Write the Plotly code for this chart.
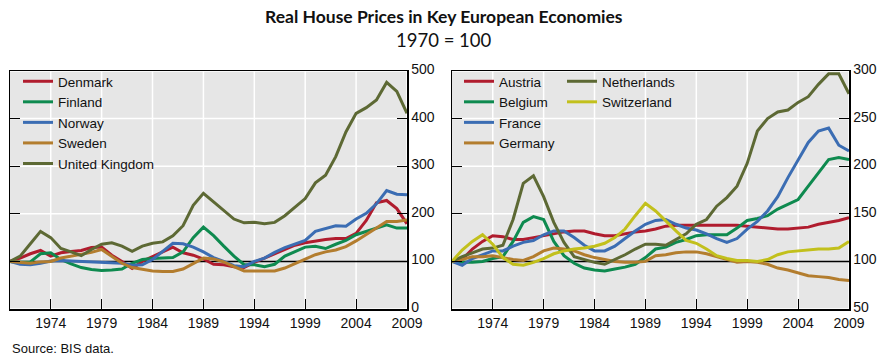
import plotly.graph_objects as go

years = list(range(1970, 2010))

# Left panel (1970 = 100)
denmark = [100, 107, 116, 123, 111, 118, 121, 123, 129, 130, 113, 100, 85, 100, 110, 120, 130, 118, 113, 105,
           94, 93, 89, 87, 98, 107, 116, 125, 134, 139, 143, 146, 148, 148, 159, 186, 223, 228, 211, 179]
finland = [100, 98, 99, 116, 118, 104, 95, 87, 83, 81, 82, 84, 96, 104, 106, 107, 108, 120, 150, 172,
           154, 132, 111, 93, 93, 89, 94, 111, 121, 130, 132, 127, 136, 144, 156, 163, 170, 177, 170, 170]
norway = [100, 94, 93, 96, 101, 102, 101, 100, 99, 98, 98, 96, 92, 93, 104, 121, 138, 137, 130, 120,
          108, 100, 91, 89, 100, 107, 119, 129, 136, 144, 163, 169, 175, 174, 189, 201, 221, 249, 241, 240]
sweden = [100, 98, 96, 99, 100, 107, 111, 116, 119, 125, 111, 96, 87, 84, 80, 79, 79, 84, 96, 107,
          105, 99, 89, 80, 80, 80, 80, 86, 96, 105, 114, 120, 124, 131, 143, 157, 171, 184, 184, 187]
uk = [100, 111, 137, 163, 150, 127, 120, 112, 125, 136, 139, 132, 121, 132, 138, 141, 154, 175, 218, 243,
      225, 207, 189, 181, 182, 179, 182, 196, 214, 232, 265, 281, 320, 372, 411, 423, 439, 476, 457, 411]

# Right panel (1970 = 100)
austria = [100, 102, 113, 121, 127, 126, 123, 123, 125, 127, 129, 131, 132, 132, 129, 127, 127, 129, 131, 132,
           134, 137, 138, 138, 138, 138, 138, 138, 138, 137, 136, 135, 134, 134, 135, 136, 139, 141, 143, 146]
belgium = [100, 99, 99, 100, 103, 105, 121, 141, 147, 144, 121, 106, 98, 93, 91, 90, 92, 94, 97, 104,
           113, 115, 120, 123, 127, 128, 128, 128, 135, 143, 145, 148, 155, 160, 165, 179, 193, 207, 209, 207]
france = [100, 96, 103, 107, 111, 111, 116, 120, 122, 128, 132, 132, 125, 117, 111, 111, 116, 124, 132, 139,
          143, 144, 139, 135, 133, 129, 124, 120, 124, 134, 142, 153, 168, 188, 207, 225, 237, 240, 222, 216]
germany = [100, 102, 105, 105, 106, 104, 102, 101, 105, 111, 114, 113, 111, 107, 104, 102, 100, 99, 99, 100,
           106, 107, 109, 110, 110, 108, 105, 102, 99, 100, 99, 97, 93, 91, 88, 85, 84, 83, 81, 80]
netherlands = [100, 105, 109, 113, 114, 117, 144, 182, 190, 168, 141, 120, 105, 102, 99, 97, 102, 107, 113, 118,
               118, 117, 123, 129, 139, 144, 158, 167, 179, 203, 237, 250, 257, 259, 267, 273, 286, 297, 297, 276]
switzerland = [100, 112, 121, 128, 118, 104, 97, 96, 99, 103, 108, 111, 113, 114, 116, 119, 125, 134, 148, 161,
               153, 142, 132, 122, 119, 113, 106, 103, 101, 101, 100, 102, 107, 110, 111, 112, 113, 113, 114, 121]

x_tickvals = [1974, 1979, 1984, 1989, 1994, 1999, 2004, 2009]
left_ticks = [0, 100, 200, 300, 400, 500]
right_ticks = [50, 100, 150, 200, 250, 300]
BASE = 100
X_RANGE = [1970, 2009]

RED = "#b01c2e"
GREEN = "#0e8a4f"
BLUE = "#3b6db3"
TAN = "#b37d2e"
OLIVE = "#5d6934"
YEL = "#c2c01c"

FONT = "Liberation Sans, Arial, sans-serif"
TITLE_FONT = "Lato, Open Sans, sans-serif"

fig = go.Figure()

left = [("Denmark", denmark, RED), ("Finland", finland, GREEN), ("Norway", norway, BLUE),
        ("Sweden", sweden, TAN), ("United Kingdom", uk, OLIVE)]
for name, vals, col in left:
    fig.add_trace(go.Scatter(x=years, y=vals, name=name, mode="lines",
                             line=dict(color=col, width=3), xaxis="x", yaxis="y", legend="legend"))

right1 = [("Austria", austria, RED), ("Belgium", belgium, GREEN), ("France", france, BLUE),
          ("Germany", germany, TAN)]
right2 = [("Netherlands", netherlands, OLIVE), ("Switzerland", switzerland, YEL)]
for name, vals, col in right1:
    fig.add_trace(go.Scatter(x=years, y=vals, name=name, mode="lines",
                             line=dict(color=col, width=3), xaxis="x2", yaxis="y2", legend="legend2"))
for name, vals, col in right2:
    fig.add_trace(go.Scatter(x=years, y=vals, name=name, mode="lines",
                             line=dict(color=col, width=3), xaxis="x2", yaxis="y2", legend="legend3"))

W, H = 888, 363
ydom = [1 - 309 / H, 1 - 71 / H]

xcommon = dict(range=X_RANGE, tickvals=x_tickvals, ticks="inside", ticklen=10, tickcolor="black",
               showline=True, linecolor="black", linewidth=1.5, mirror=True,
               showgrid=False, zeroline=False, automargin=False, ticklabelstandoff=1,
               tickfont=dict(size=14, color="#111"))
ycommon = dict(side="right", ticks="inside", ticklen=10, tickcolor="black",
               showline=True, linecolor="black", linewidth=1.5, mirror="ticks",
               showgrid=False, zeroline=False, automargin=False, ticklabelshift=-2,
               tickfont=dict(size=14, color="#111"))

legend_common = dict(bgcolor="rgba(0,0,0,0)", font=dict(size=13.5, color="#111", family=FONT),
                     xanchor="left", yanchor="top", tracegroupgap=0, itemwidth=30)

# gridlines (white) and the black 100 baseline, drawn beneath the data
shapes = []
for xr, yr, yt in (("x", "y", left_ticks), ("x2", "y2", right_ticks)):
    for xv in x_tickvals:
        shapes.append(dict(type="line", xref=xr, yref=yr + " domain", x0=xv, x1=xv, y0=0, y1=1,
                           line=dict(color="white", width=1.5), layer="below"))
    for yv in yt:
        if yv != BASE:
            shapes.append(dict(type="line", xref=xr, yref=yr, x0=X_RANGE[0], x1=X_RANGE[1], y0=yv, y1=yv,
                               line=dict(color="white", width=1.5), layer="below"))
    shapes.append(dict(type="line", xref=xr, yref=yr, x0=X_RANGE[0], x1=X_RANGE[1], y0=BASE, y1=BASE,
                       line=dict(color="black", width=1.5), layer="below"))

fig.update_layout(
    width=W, height=H,
    margin=dict(l=0, r=0, t=0, b=0, pad=0, autoexpand=False),
    paper_bgcolor="white",
    plot_bgcolor="#e6e6e6",
    font=dict(family=FONT, color="#111"),
    showlegend=True,
    hovermode=False,
    xaxis=dict(domain=[10 / W, 407 / W], anchor="y", **xcommon),
    yaxis=dict(domain=ydom, anchor="x", range=[0, 500], tickvals=left_ticks, **ycommon),
    xaxis2=dict(domain=[452 / W, 849 / W], anchor="y2", **xcommon),
    yaxis2=dict(domain=ydom, anchor="x2", range=[50, 300], tickvals=right_ticks, **ycommon),
    legend=dict(x=18 / W, y=1 - 66 / H, **legend_common),
    legend2=dict(x=459 / W, y=1 - 66 / H, **legend_common),
    legend3=dict(x=562 / W, y=1 - 66 / H, **legend_common),
    shapes=shapes,
    annotations=[
        dict(text="<b>Real House Prices in Key European Economies</b>", xref="paper", yref="paper",
             x=0.5, y=1 - 16 / H, xanchor="center", yanchor="middle", showarrow=False,
             font=dict(size=17.5, color="#111", family=TITLE_FONT)),
        dict(text="1970 = 100", xref="paper", yref="paper",
             x=0.5, y=1 - 40 / H, xanchor="center", yanchor="middle", showarrow=False,
             font=dict(size=18.5, color="#111", family=TITLE_FONT)),
        dict(text="Source: BIS data.", xref="paper", yref="paper",
             x=10 / W, y=1 - 348 / H, xanchor="left", yanchor="middle", showarrow=False,
             font=dict(size=13, color="#111")),
    ],
)

fig.write_html("out.html", config={"displayModeBar": False, "staticPlot": True},
               post_script="document.body.style.margin='0';")
